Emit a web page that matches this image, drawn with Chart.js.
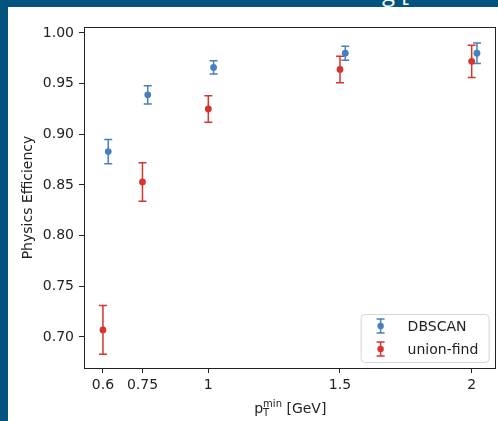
<!DOCTYPE html>
<html lang="en">
<head>
    <meta charset="UTF-8">
    <title>Physics Efficiency</title>
    <script src="https://cdn.jsdelivr.net/npm/chart.js"></script>
    <style>
        html, body { margin: 0; padding: 0; }
        body { width: 498px; height: 421px; background: #03537f; position: relative; overflow: hidden; }
        #panel { position: absolute; left: 8px; top: 7px; width: 490px; height: 414px; background: #fff; }
        #band { position: absolute; left: 0; top: 0; width: 498px; height: 7px; overflow: hidden; }
        #band span { position: absolute; color: #fff; font: 24px 'Open Sans', sans-serif; line-height: 24px; }
    </style>
</head>
<body>
    <div id="band"><span style="left:382px; top:-20px;">g [</span></div>
    <div id="panel"><canvas id="myChart" width="490" height="414"></canvas></div>
    <script>

const ptValues = [0.6, 0.75, 1, 1.5, 2];
const dbscanX = [0.62, 0.77, 1.02, 1.52, 2.02];
const dbscanEff = [0.883, 0.939, 0.966, 0.980, 0.980];
const dbscanErr = [0.012, 0.009, 0.0065, 0.007, 0.010];
const unionX = [0.6, 0.75, 1, 1.5, 2];
const unionEff = [0.707, 0.853, 0.925, 0.964, 0.972];
const unionErr = [0.024, 0.019, 0.013, 0.013, 0.016];
const yTicks = [0.70, 0.75, 0.80, 0.85, 0.90, 0.95, 1.00];
const xTickLabels = ['0.6', '0.75', '1', '1.5', '2'];

const blue = '#4a7fbd';
const red = '#d6342f';
const font = "'DejaVu Sans', sans-serif";

function toPoints(xs, ys) {
    return xs.map((x, i) => ({ x: x, y: ys[i] }));
}

const errorBars = {
    id: 'errorBars',
    beforeDatasetsDraw(chart) {
        const ctx = chart.ctx;
        const xs = chart.scales.x, ys = chart.scales.y;
        chart.data.datasets.forEach(ds => {
            ctx.save();
            ctx.strokeStyle = ds.borderColor;
            ctx.lineWidth = 1.5;
            ds.data.forEach((p, i) => {
                const px = xs.getPixelForValue(p.x);
                const top = ys.getPixelForValue(p.y + ds.err[i]);
                const bot = ys.getPixelForValue(p.y - ds.err[i]);
                ctx.beginPath();
                ctx.moveTo(px, top); ctx.lineTo(px, bot);
                ctx.moveTo(px - 4, top); ctx.lineTo(px + 4, top);
                ctx.moveTo(px - 4, bot); ctx.lineTo(px + 4, bot);
                ctx.stroke();
            });
            ctx.restore();
        });
    },
    afterDraw(chart) {
        const ctx = chart.ctx;
        const a = chart.chartArea;
        ctx.save();
        // frame
        ctx.strokeStyle = '#222';
        ctx.lineWidth = 1;
        ctx.strokeRect(Math.round(a.left) + 0.5, Math.round(a.top) + 0.5,
            Math.round(a.right - a.left), Math.round(a.bottom - a.top));

        // legend
        const lw = 128, lh = 48;
        const lx = a.right - 6 - lw, ly = a.bottom - 6 - lh;
        ctx.beginPath();
        ctx.roundRect(lx + 0.5, ly + 0.5, lw, lh, 4);
        ctx.fillStyle = 'rgba(255,255,255,0.8)';
        ctx.fill();
        ctx.strokeStyle = '#d6d6d6';
        ctx.stroke();
        chart.data.datasets.forEach((ds, i) => {
            const cy = ly + 12 + i * 23;
            const cx = lx + 20;
            ctx.strokeStyle = ds.borderColor;
            ctx.fillStyle = ds.backgroundColor;
            ctx.lineWidth = 1.5;
            ctx.beginPath();
            ctx.moveTo(cx, cy - 7); ctx.lineTo(cx, cy + 7);
            ctx.moveTo(cx - 4, cy - 7); ctx.lineTo(cx + 4, cy - 7);
            ctx.moveTo(cx - 4, cy + 7); ctx.lineTo(cx + 4, cy + 7);
            ctx.stroke();
            ctx.beginPath();
            ctx.arc(cx, cy, 3.2, 0, Math.PI * 2);
            ctx.fill();
            ctx.fillStyle = '#222';
            ctx.font = '14px ' + font;
            ctx.textBaseline = 'middle';
            ctx.textAlign = 'left';
            ctx.fillText(ds.label, lx + 47, cy + 1);
        });

        // axis titles
        ctx.fillStyle = '#222';
        ctx.font = '14px ' + font;
        ctx.textBaseline = 'alphabetic';
        ctx.save();
        ctx.translate(24, (a.top + a.bottom) / 2);
        ctx.rotate(-Math.PI / 2);
        ctx.textAlign = 'center';
        ctx.fillText('Physics Efficiency', 0, 0);
        ctx.restore();

        const base = a.bottom + 45;
        ctx.font = '14px ' + font;
        const wp = ctx.measureText('p').width;
        ctx.font = '10px ' + font;
        const wm = ctx.measureText('min').width;
        ctx.font = '14px ' + font;
        const wg = ctx.measureText(' [GeV]').width;
        const total = wp + wm + wg;
        const x = (a.left + a.right) / 2 - total / 2 + 1;
        ctx.textAlign = 'left';
        ctx.fillText('p', x, base);
        ctx.font = '10px ' + font;
        ctx.fillText('min', x + wp, base - 6);
        ctx.fillText('T', x + wp, base + 3);
        ctx.font = '14px ' + font;
        ctx.fillText(' [GeV]', x + wp + wm, base);
        ctx.restore();
    }
};

const ctx = document.getElementById('myChart').getContext('2d');
const myChart = new Chart(ctx, {
    type: 'scatter',
    data: {
        datasets: [{
            label: 'DBSCAN',
            data: toPoints(dbscanX, dbscanEff),
            err: dbscanErr,
            backgroundColor: blue,
            borderColor: blue,
            pointRadius: 3.4,
            pointHoverRadius: 3.4,
            borderWidth: 0
        }, {
            label: 'union-find',
            data: toPoints(unionX, unionEff),
            err: unionErr,
            backgroundColor: red,
            borderColor: red,
            pointRadius: 3.4,
            pointHoverRadius: 3.4,
            borderWidth: 0
        }]
    },
    options: {
        responsive: false,
        animation: false,
        devicePixelRatio: 1,
        layout: { padding: { top: 20, right: 2, left: 0, bottom: 0 } },
        plugins: { legend: { display: false }, tooltip: { enabled: false } },
        scales: {
            x: {
                type: 'linear',
                min: 0.528,
                max: 2.087,
                afterFit(scale) { scale.height = 53; },
                afterBuildTicks(scale) { scale.ticks = ptValues.map(v => ({ value: v })); },
                grid: { drawOnChartArea: false, drawTicks: true, tickLength: 5, color: '#222' },
                border: { display: true, color: '#222' },
                ticks: {
                    color: '#222',
                    font: { family: font, size: 14 },
                    padding: 4,
                    maxRotation: 0,
                    autoSkip: false,
                    callback: (v, i) => xTickLabels[i]
                }
            },
            y: {
                min: 0.6694,
                max: 1.0059,
                afterFit(scale) { scale.width = 76; },
                afterBuildTicks(scale) { scale.ticks = yTicks.map(v => ({ value: v })); },
                grid: { drawOnChartArea: false, drawTicks: true, tickLength: 5, color: '#222' },
                border: { display: true, color: '#222' },
                ticks: {
                    color: '#222',
                    font: { family: font, size: 14 },
                    padding: 5,
                    autoSkip: false,
                    callback: v => v.toFixed(2)
                }
            }
        }
    },
    plugins: [errorBars]
});

    </script>
</body>
</html>
